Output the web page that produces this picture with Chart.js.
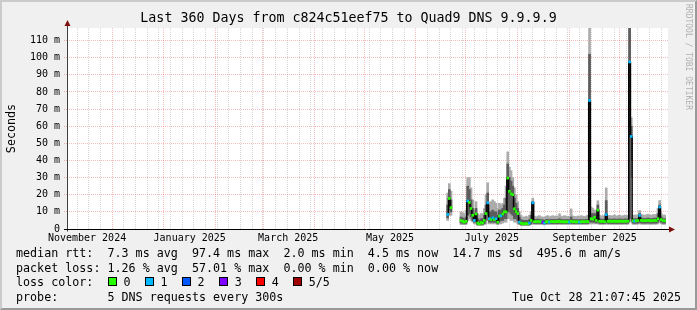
<!DOCTYPE html>
<html>
<head>
<meta charset="utf-8">
<script src="https://cdn.jsdelivr.net/npm/chart.js@4"></script>
<style>
  body { margin: 0; background: #f0f0f0; }
  #wrap { position: relative; width: 697px; height: 310px; background: #f0f0f0; overflow: hidden;
          font-family: "DejaVu Sans Mono", monospace; color: #000; }
  #wrap canvas { position: absolute; left: 0; top: 0; }
  #frame { position: absolute; left: 0; top: 0; width: 697px; height: 310px; box-sizing: border-box;
           border: 2px solid; border-color: #cbcbcb #999 #999 #cbcbcb; pointer-events: none; }
  .title { position: absolute; left: 0; top: 10px; width: 697px; text-align: center; font-size: 13.3px; line-height: 16px; }
  .row { position: absolute; left: 16px; font-size: 11.7px; line-height: 14px; white-space: pre; }
  .box { position: absolute; width: 7px; height: 7px; border: 1px solid #000; top: 277px; }
  .wm { position: absolute; left: 684px; top: 4px; writing-mode: vertical-rl; font-size: 8px; line-height: 8px;
        color: #b0b0b0; white-space: pre; }
</style>
</head>
<body>
<div id="wrap">
  <canvas id="c" width="697" height="310"></canvas>
  <div class="title">Last 360 Days from c824c51eef75 to Quad9 DNS 9.9.9.9</div>
  <div class="wm">RRDTOOL / TOBI OETIKER</div>
  <div class="row" style="top:246px">median rtt:  7.3 ms avg  97.4 ms max  2.0 ms min  4.5 ms now  14.7 ms sd  495.6 m am/s</div>
  <div class="row" style="top:261px">packet loss: 1.26 % avg  57.01 % max  0.00 % min  0.00 % now</div>
  <div class="row" style="top:275px">loss color:</div>
  <div id="boxes"></div>
  <div class="row" style="top:290px">probe:       5 DNS requests every 300s</div>
  <div class="row" style="top:290px; left:auto; right:16px">Tue Oct 28 21:07:45 2025</div>
  <div id="frame"></div>
</div>
<script>
// x values are days counted from the left edge of the graph (about Nov 4 2024)
const startDay = 228;

// median round trip (ms), one value per day, null where there is no data
const medianMs = [
  8.5, 17.8, 12.5, null, null, null, null, null,
  5, 4.5, 4, 4.5, 16.3, 15.5, 12, 8, 5, 8.8,
  3.5, 3, 3.8, 3.5, 5, 9, 15.3, 6, 5.5, 6.5,
  5.5, 6, 4, 7.5, 7.8, 8.8, 10, 10, 29.7, 22,
  20.5, 20, 11.8, 10.2, 9, 4, 3.4, 3, 3, 3.2,
  3, 3.5, 5, 15.3, 4.3, 4.2, 4.4, 4.2, 4.3, 4,
  3.5, 4.2, 4.3, 4, 4.4, 4.3, 4.2, 4.4, 4.3, 4.5,
  4.2, 4.3, 4.1, 4.3, 4.2, 4, 4.5, 4.2, 4.3, 4.1,
  4.3, 4, 4.2, 4.3, 4.2, 4.4, 4.3, 75, 6, 5.8,
  6.8, 5, 11, 4.5, 4.4, 4.5, 4.3, 8.4, 4.5, 4.6,
  4.4, 4.5, 4.6, 4.4, 4.5, 4.6, 4.5, 4.4, 4.6, 4.5,
  4.6, 97.5, 54, 4.8, 4.6, 4.8, 4.9, 7.9, 5, 4.9,
  4.8, 4.9, 5, 4.9, 4.8, 4.9, 5, 4.9, 6, 12.8,
  5.5, 4.8, 4.8
];

// lost pings out of 5 for each day
const lossCode = [
  1, 0, 0, 0, 0, 0, 0, 0,
  0, 0, 0, 0, 1, 0, 0, 0, 1, 0,
  0, 0, 0, 0, 0, 0, 1, 1, 0, 1,
  0, 1, 0, 0, 1, 0, 0, 0, 0, 0,
  0, 0, 0, 0, 0, 1, 0, 0, 0, 0,
  0, 1, 0, 1, 0, 0, 0, 0, 0, 3,
  1, 0, 0, 1, 0, 0, 0, 0, 0, 0,
  0, 0, 0, 0, 0, 1, 0, 0, 0, 0,
  0, 1, 0, 0, 0, 0, 0, 1, 0, 0,
  0, 0, 0, 0, 0, 0, 0, 1, 0, 0,
  0, 0, 0, 0, 0, 0, 0, 0, 0, 0,
  0, 1, 1, 0, 1, 0, 0, 1, 0, 0,
  0, 0, 0, 0, 0, 0, 0, 0, 0, 1,
  0, 0, 0
];

// outer smoke (min / max of the pings)
const smokeLo = [
  5, 8, 8, null, null, null, null, null,
  2.5, 2.5, 2.5, 2.5, 5, 6, 5, 4, 3, 3,
  2, 2, 2, 2, 2.5, 3, 5, 3, 3, 3,
  3, 3, 2.5, 3, 3, 3.5, 4, 4, 6, 6,
  5, 5, 4, 4, 3, 2.5, 2, 2, 2, 2,
  2, 2, 2.5, 3, 2.6, 2.6, 2.6, 2.6, 2.6, 2.6,
  2.4, 2.6, 2.6, 2.6, 2.6, 2.6, 2.6, 2.6, 2.6, 2.7,
  2.6, 2.6, 2.6, 2.6, 2.6, 2.6, 2.7, 2.6, 2.6, 2.6,
  2.6, 2.6, 2.6, 2.6, 2.6, 2.6, 2.6, 3, 3, 3,
  3, 3, 3, 2.6, 2.6, 2.6, 2.6, 3, 2.6, 2.7,
  2.6, 2.6, 2.7, 2.6, 2.6, 2.7, 2.6, 2.6, 2.7, 2.6,
  2.7, 4, 30, 2.7, 2.7, 2.7, 2.8, 3, 2.8, 2.8,
  2.7, 2.8, 2.8, 2.8, 2.7, 2.8, 2.8, 2.8, 3, 4,
  3, 2.7, 2.7
];
const smokeHi = [
  21, 26.5, 22, null, null, null, null, null,
  10, 9.5, 9, 11, 30, 30, 24, 17, 11, 16,
  9, 8, 9, 9, 12, 20, 27, 14, 16, 17,
  16, 15, 12, 15, 14, 15, 18, 25, 45, 36,
  34, 30, 24, 20, 16, 10, 8, 7, 7, 7.5,
  7, 8, 10, 18, 7.5, 7, 7.5, 7.8, 7.2, 7,
  6.8, 7.5, 7.8, 7.2, 7.5, 7.8, 7.4, 7.6, 7.5, 8.9,
  7.6, 7.4, 7.8, 7.5, 7.3, 7.5, 11.7, 7.6, 7.4, 7.2,
  7.6, 7.4, 7.8, 7.5, 7.3, 7.6, 8, 117.5, 12.8, 12,
  11, 10, 16.5, 8, 7.6, 7.8, 7.5, 24, 7.8, 8,
  7.6, 7.8, 8.2, 7.5, 7.8, 8, 7.7, 7.6, 8.1, 7.8,
  8, 117.5, 65, 8, 8.2, 8, 8.4, 10.8, 8.5, 8.2,
  8, 8.3, 8.6, 8.2, 8, 8.4, 8.5, 8.2, 12, 16.6,
  9, 8, 8.2
];

// inner (denser) smoke
const coreLo = [
  6.5, 11, 10, null, null, null, null, null,
  3.5, 3.3, 3, 3.2, 8, 9, 7, 5, 4, 4,
  2.6, 2.5, 2.7, 2.6, 3.3, 5, 8, 4, 4, 4,
  4, 4, 3, 4.5, 5, 5, 6, 6, 10, 10,
  9, 8, 6, 6, 5, 3, 2.5, 2.4, 2.4, 2.5,
  2.4, 2.6, 3, 5, 3.2, 3.2, 3.2, 3.2, 3.2, 3.1,
  2.9, 3.2, 3.2, 3.1, 3.2, 3.2, 3.2, 3.2, 3.2, 3.3,
  3.2, 3.2, 3.2, 3.2, 3.2, 3.1, 3.3, 3.2, 3.2, 3.2,
  3.2, 3.1, 3.2, 3.2, 3.2, 3.2, 3.2, 5, 4, 4,
  4, 3.5, 5, 3.2, 3.2, 3.2, 3.2, 4, 3.2, 3.3,
  3.2, 3.2, 3.3, 3.2, 3.2, 3.3, 3.2, 3.2, 3.3, 3.2,
  3.3, 6, 40, 3.4, 3.3, 3.4, 3.4, 4, 3.5, 3.4,
  3.4, 3.4, 3.5, 3.4, 3.4, 3.4, 3.5, 3.4, 4, 6,
  4, 3.4, 3.4
];
const coreHi = [
  14, 23, 17, null, null, null, null, null,
  7, 6.5, 6, 7, 25, 23, 17, 12, 8, 12,
  6, 5, 6, 6, 8, 14, 21, 10, 10, 11,
  10, 10, 8, 11, 11, 12, 14, 18, 38, 30,
  28, 25, 18, 15, 12, 7, 5.5, 5, 5, 5,
  5, 5.5, 8, 16, 5.5, 5.5, 5.8, 5.5, 5.5, 5.3,
  5, 5.5, 5.6, 5.3, 5.6, 5.6, 5.5, 5.6, 5.5, 6,
  5.5, 5.5, 5.4, 5.5, 5.5, 5.3, 7, 5.5, 5.5, 5.4,
  5.5, 5.3, 5.5, 5.5, 5.5, 5.6, 5.6, 102, 9, 9,
  9, 8, 14, 6, 5.6, 5.8, 5.6, 16.6, 5.8, 5.9,
  5.6, 5.8, 5.9, 5.6, 5.8, 5.9, 5.8, 5.6, 5.9, 5.8,
  5.9, 117.5, 60, 6, 6, 6, 6.2, 9, 6.4, 6.2,
  6, 6.2, 6.4, 6.2, 6, 6.2, 6.4, 6.2, 9, 14,
  7, 6, 6
];

// x axis: weekly minor grid, month start major grid, month labels
const monthStarts = [27, 58, 89, 117, 148, 178, 209, 239, 270, 301, 331];
const labelDays = [12, 73.5, 132.5, 193.5, 254.5, 316];
const labelNames = ['November 2024', 'January 2025', 'March 2025', 'May 2025', 'July 2025', 'September 2025'];
const weekDays = [];
for (let d = 6; d <= 360; d += 7) if (!monthStarts.includes(d)) weekDays.push(d);

// y axis grid every 5 ms, labels every 10 ms
const yTicks = [0, 5, 10, 15, 20, 25, 30, 35, 40, 45, 50, 55, 60, 65, 70, 75, 80, 85, 90, 95, 100, 105, 110, 115];

const lossColors = ['#26ff00', '#00b8ff', '#0059ff', '#7e00ff', '#ff0000', '#a10000'];
const lossLabels = ['0', '1', '2', '3', '4', '5/5'];

const minorGrid = 'rgba(150,150,150,0.38)';
const majorGrid = 'rgba(232,96,96,0.42)';
const mono = '"DejaVu Sans Mono", monospace';

// legend boxes
const boxes = document.getElementById('boxes');
lossColors.forEach((c, k) => {
    const left = 108 + k * 37.05;
    const b = document.createElement('div');
    b.className = 'box';
    b.style.left = left + 'px';
    b.style.background = c;
    boxes.appendChild(b);
    const t = document.createElement('div');
    t.className = 'row';
    t.style.top = '275px';
    t.style.left = (left + 15.5) + 'px';
    t.textContent = lossLabels[k];
    boxes.appendChild(t);
});

// build the chart data from the arrays
const smokeData = [];
const coreData = [];
const medData = [];
medianMs.forEach((m, i) => {
    const d = startDay + i;
    if (m === null) {
        medData.push({ x: d, y: null });
        return;
    }
    smokeData.push({ x: d, y: [smokeLo[i], smokeHi[i]] });
    coreData.push({ x: d, y: [coreLo[i], coreHi[i]] });
    medData.push({ x: d, y: m });
});

// white canvas, axis lines and arrows like rrdtool
const rrdFrame = {
    id: 'rrdFrame',
    beforeDraw(chart) {
        const { ctx, chartArea: a } = chart;
        ctx.save();
        ctx.fillStyle = '#ffffff';
        ctx.fillRect(a.left, a.top, a.right - a.left, a.bottom - a.top);
        ctx.restore();
    },
    afterDraw(chart) {
        const { ctx, chartArea: a } = chart;
        const xl = a.left + 0.5;
        const yb = a.bottom + 0.5;
        ctx.save();
        ctx.lineWidth = 1;
        ctx.strokeStyle = '#404040';
        ctx.beginPath();
        ctx.moveTo(xl, yb + 2);
        ctx.lineTo(xl, a.top - 4);
        ctx.stroke();
        ctx.strokeStyle = '#000000';
        ctx.beginPath();
        ctx.moveTo(a.left - 3, yb);
        ctx.lineTo(a.right + 1, yb);
        ctx.stroke();
        ctx.fillStyle = '#7f1010';
        ctx.beginPath();
        ctx.moveTo(xl, a.top - 8);
        ctx.lineTo(xl - 3, a.top - 2);
        ctx.lineTo(xl + 3, a.top - 2);
        ctx.closePath();
        ctx.fill();
        ctx.beginPath();
        ctx.moveTo(a.right + 7, yb);
        ctx.lineTo(a.right + 1, yb - 3);
        ctx.lineTo(a.right + 1, yb + 3);
        ctx.closePath();
        ctx.fill();
        ctx.restore();
    }
};

new Chart(document.getElementById('c'), {
    type: 'bar',
    data: {
        datasets: [
            {
                type: 'line',
                label: 'loss',
                data: medData,
                showLine: false,
                pointStyle: 'rect',
                pointRadius: 1.9,
                pointBorderWidth: 0,
                pointBackgroundColor: ctx => lossColors[lossCode[ctx.dataIndex]],
                order: 0,
            },
            {
                type: 'line',
                label: 'median',
                data: medData,
                stepped: 'middle',
                borderColor: '#000000',
                borderWidth: 1.5,
                pointRadius: 0,
                spanGaps: false,
                order: 1,
            },
            {
                type: 'bar',
                label: 'core',
                data: coreData,
                backgroundColor: '#5c5c5c',
                barThickness: 2,
                grouped: false,
                order: 2,
            },
            {
                type: 'bar',
                label: 'smoke',
                data: smokeData,
                backgroundColor: '#ababab',
                barThickness: 2,
                grouped: false,
                order: 3,
            },
        ],
    },
    options: {
        responsive: false,
        animation: false,
        devicePixelRatio: 1,
        layout: { padding: { left: 0, top: 28, right: 29, bottom: 61 } },
        plugins: {
            legend: { display: false },
            tooltip: { enabled: false },
            title: { display: false },
        },
        scales: {
            x: {
                type: 'linear',
                min: 0,
                max: 360,
                offset: false,
                grid: {
                    offset: false,
                    drawTicks: false,
                    lineWidth: 1,
                    color: ctx => {
                        const v = ctx.tick ? ctx.tick.value : null;
                        if (monthStarts.includes(v)) return majorGrid;
                        if (labelDays.includes(v)) return 'rgba(0,0,0,0)';
                        return minorGrid;
                    },
                },
                border: { display: false, dash: [1, 1] },
                ticks: {
                    autoSkip: false,
                    maxRotation: 0,
                    padding: 3,
                    color: '#000',
                    font: { family: mono, size: 10 },
                    callback: v => {
                        const k = labelDays.indexOf(v);
                        return k >= 0 ? labelNames[k] : '';
                    },
                },
                afterBuildTicks: s => {
                    const vals = weekDays.concat(monthStarts, labelDays).sort((a, b) => a - b);
                    s.ticks = vals.map(v => ({ value: v }));
                },
                afterFit: s => { s.height = 20; },
            },
            y: {
                type: 'linear',
                min: 0,
                max: 117.3,
                grid: {
                    lineWidth: 1,
                    drawTicks: true,
                    tickLength: 3,
                    tickBorderDash: [1, 1],
                    color: ctx => (ctx.tick && ctx.tick.value % 10 === 0 ? majorGrid : minorGrid),
                    tickColor: ctx => (ctx.tick && ctx.tick.value % 10 === 0 ? majorGrid : 'rgba(0,0,0,0)'),
                },
                border: { display: false, dash: [1, 1] },
                ticks: {
                    padding: 4,
                    color: '#000',
                    font: { family: mono, size: 10 },
                    callback: v => (v % 10 !== 0 ? '' : v === 0 ? '0' : v + ' m'),
                },
                afterBuildTicks: s => {
                    s.ticks = yTicks.map(v => ({ value: v }));
                },
                title: {
                    display: true,
                    text: 'Seconds',
                    color: '#000',
                    font: { family: mono, size: 11.7 },
                    padding: { top: 5, bottom: 0 },
                },
                afterFit: s => { s.width = 67; },
            },
        },
    },
    plugins: [rrdFrame],
});
</script>
</body>
</html>
